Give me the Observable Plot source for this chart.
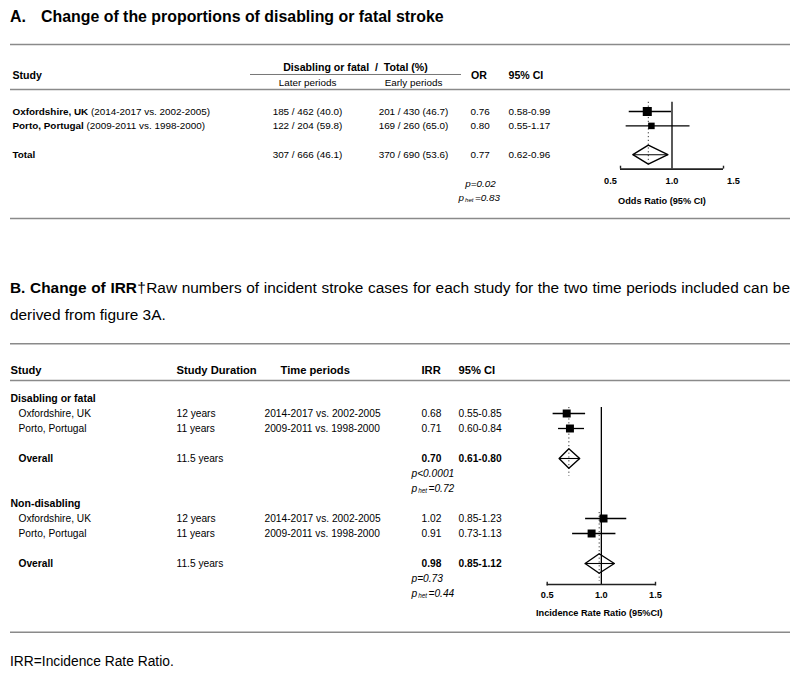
<!DOCTYPE html>
<html>
<head>
<meta charset="utf-8">
<script src="https://cdn.jsdelivr.net/npm/d3@7"></script>
<script src="https://cdn.jsdelivr.net/npm/@observablehq/plot@0.6"></script>
<style>
  html, body { margin: 0; padding: 0; background: #fff; }
  #root { position: relative; width: 800px; height: 676px; overflow: hidden;
          font-family: 'Liberation Sans', Arial, Helvetica, sans-serif; color: #000; }
  .abs { position: absolute; }
  #titleA { left: 10px; top: 6px; font-size: 15.9px; font-weight: bold; line-height: 21px; white-space: nowrap; }
  #titleA .lbl { display: inline-block; width: 31px; }
  #titleB { left: 10px; top: 274px; width: 780px; font-size: 15.4px; line-height: 27px; }
  #titleB .l1 { text-align: justify; text-align-last: justify; }
  #caption { left: 10px; top: 653px; font-size: 13.8px; line-height: 17px; }
  #plotA { left: 0; top: 30px; }
  #plotB { left: 0; top: 335px; }
</style>
</head>
<body>
<div id="root">
  <div id="titleA" class="abs"><span class="lbl">A.</span>Change of the proportions of disabling or fatal stroke</div>
  <div id="plotA" class="abs"></div>
  <div id="titleB" class="abs">
    <div class="l1"><b>B. Change of IRR</b>†Raw numbers of incident stroke cases for each study for the two time periods included can be</div>
    <div>derived from figure 3A.</div>
  </div>
  <div id="plotB" class="abs"></div>
  <div id="caption" class="abs">IRR=Incidence Rate Ratio.</div>
</div>
<script>
// ================= DATA =================
// Panel A
const studiesA = ["Oxfordshire, UK", "Porto, Portugal"];
const periodsA = ["(2014-2017 vs. 2002-2005)", "(2009-2011 vs. 1998-2000)"];
const eventsLaterA = [185, 122];
const totalLaterA = [462, 204];
const eventsEarlyA = [201, 169];
const totalEarlyA = [430, 260];
const orA = [0.76, 0.80];
const orLoA = [0.58, 0.55];
const orHiA = [0.99, 1.17];
const pooledOrA = [0.77, 0.62, 0.96];   // estimate, lower, upper
const pTextA = "p=0.02";
const pHetA = "0.83";
const ticksA = [0.5, 1.0, 1.5];

// Panel B
const groupsB = ["Disabling or fatal", "Non-disabling"];
const studiesB = ["Oxfordshire, UK", "Porto, Portugal"];
const durationsB = ["12 years", "11 years"];
const periodsB = ["2014-2017 vs. 2002-2005", "2009-2011 vs. 1998-2000"];
const irrB   = [[0.68, 0.71], [1.02, 0.91]];
const irrLoB = [[0.55, 0.60], [0.85, 0.73]];
const irrHiB = [[0.85, 0.84], [1.23, 1.13]];
const overallDurationB = "11.5 years";
const overallIrrB = [0.70, 0.98];
const overallLoB  = [0.61, 0.85];
const overallHiB  = [0.80, 1.12];
const pOverallB = ["p<0.0001", "p=0.73"];
const pHetB = ["0.72", "0.44"];
const ticksB = [0.5, 1.0, 1.5];

// ================= HELPERS =================
const FONT = "'Liberation Sans', Arial, Helvetica, sans-serif";
const ctx = document.createElement("canvas").getContext("2d");
function tw(str, size, weight = "normal", style = "normal") {
  ctx.font = `${style} ${weight} ${size}px ${FONT}`;
  return ctx.measureText(str).width;
}
const f2 = v => v.toFixed(2);
const ci = (lo, hi) => `${f2(lo)}-${f2(hi)}`;
const frac = (e, n) => `${e} / ${n} (${(100 * e / n).toFixed(1)})`;
const sum = a => a.reduce((s, v) => s + v, 0);

function txt(data, opts) {
  return Plot.text(data, {frameAnchor: "left", textAnchor: "start", fill: "#000", ...opts});
}
function one(row, text, dx, opts = {}) {
  return txt([{row, text}], {y: "row", text: "text", dx, ...opts});
}
function pHet(row, x0, value, size) {
  const wp = tw("p", size, "normal", "italic");
  const ss = size * 0.62;
  const wh = tw("het", ss, "normal", "italic");
  return [
    one(row, "p", x0, {fontSize: size, fontStyle: "italic"}),
    one(row, "het", x0 + wp + 1, {fontSize: ss, fontStyle: "italic", dy: 2.6}),
    one(row, "=" + value, x0 + wp + wh + 2.5, {fontSize: size, fontStyle: "italic"})
  ];
}
function diamond(id, est, lo, hi, row, h) {
  return [
    {id, x: lo, y: row}, {id, x: est, y: row - h}, {id, x: hi, y: row},
    {id, x: est, y: row + h}, {id, x: lo, y: row}
  ];
}
const GRAY = "#8a8a8a";

// ================= PANEL A =================
{
  const FS = 9.9, HFS = 10.6, AFS = 9.2;
  const unit = 14.4, row0 = 81, H = 195;
  const L = {lineTop: -4.65, head1: -3.06, underline: -2.57, head: -2.5, head2: -2.01, lineHead: -1.53,
             total: 3, axis: 4, tickLab: 4.86, p: 5, phet: 6, axisTitle: 6.25, lineBottom: 7.43,
             refTop: -0.64, dotBottom: 3.6};
  const rows = studiesA.map((s, i) => ({
    row: i, study: s, period: periodsA[i],
    later: frac(eventsLaterA[i], totalLaterA[i]), early: frac(eventsEarlyA[i], totalEarlyA[i]),
    est: orA[i], lo: orLoA[i], hi: orHiA[i], n: totalLaterA[i] + totalEarlyA[i]
  }));
  const total = {row: L.total, study: "Total",
    later: frac(sum(eventsLaterA), sum(totalLaterA)), early: frac(sum(eventsEarlyA), sum(totalEarlyA)),
    est: pooledOrA[0], lo: pooledOrA[1], hi: pooledOrA[2]};
  const all = [...rows, total];
  const tickOffsets = [-10, 0, 10];

  const marks = [
    Plot.ruleY([L.lineTop, L.lineHead, L.lineBottom], {insetLeft: 10, insetRight: 10, stroke: GRAY, strokeWidth: 1.6}),
    Plot.ruleY([L.underline], {insetLeft: 250, insetRight: 339, stroke: "#777", strokeWidth: 1}),
    one(L.head, "Study", 12, {fontWeight: "bold", fontSize: HFS}),
    one(L.head1, "Disabling or fatal  /  Total (%)", 355, {fontWeight: "bold", fontSize: HFS, textAnchor: "middle"}),
    one(L.head2, "Later periods", 307, {fontSize: FS, textAnchor: "middle"}),
    one(L.head2, "Early periods", 413, {fontSize: FS, textAnchor: "middle"}),
    one(L.head, "OR", 478.5, {fontWeight: "bold", fontSize: HFS, textAnchor: "middle"}),
    one(L.head, "95% CI", 508, {fontWeight: "bold", fontSize: HFS}),
    txt(all, {y: "row", text: "study", dx: 12, fontWeight: "bold", fontSize: FS}),
    ...rows.map(r => one(r.row, r.period, 12 + tw(r.study + " ", FS, "bold"), {fontSize: FS})),
    txt(all, {y: "row", text: "later", dx: 307, textAnchor: "middle", fontSize: FS}),
    txt(all, {y: "row", text: "early", dx: 413, textAnchor: "middle", fontSize: FS}),
    txt(all, {y: "row", text: d => f2(d.est), dx: 470, fontSize: FS}),
    txt(all, {y: "row", text: d => ci(d.lo, d.hi), dx: 508, fontSize: FS}),
    one(L.p, pTextA, 480, {fontSize: FS, fontStyle: "italic", textAnchor: "middle"}),
    ...pHet(L.phet, 458, pHetA, FS),
    Plot.ruleX([1], {y1: L.refTop, y2: L.axis, stroke: "#000", strokeWidth: 1.3}),
    Plot.ruleX([total], {x: "est", y1: L.refTop, y2: L.dotBottom, stroke: "#333", strokeWidth: 1, strokeDasharray: "1.2,2.6"}),
    Plot.link(rows, {x1: "lo", x2: "hi", y1: "row", y2: "row", stroke: "#000", strokeWidth: 1.3}),
    Plot.dot(rows, {x: "est", y: "row", r: "n", symbol: "square", fill: "#000"}),
    Plot.line(diamond("A", total.est, total.lo, total.hi, total.row, 0.66), {x: "x", y: "y", z: "id", stroke: "#000", strokeWidth: 1.4}),
    Plot.link([total], {x1: "lo", x2: "hi", y1: "row", y2: "row", stroke: "#000", strokeWidth: 1.1}),
    Plot.ruleY([L.axis], {x1: ticksA[0], x2: ticksA[ticksA.length - 1], stroke: "#222", strokeWidth: 1.6}),
    Plot.ruleX([ticksA[0], ticksA[ticksA.length - 1]], {y1: L.axis, y2: L.axis - 0.2, stroke: "#222", strokeWidth: 1.4}),
    ...ticksA.map((t, k) => Plot.text([t], {x: d => d, y: () => L.tickLab, text: d => d.toFixed(1), dx: tickOffsets[k],
        fontWeight: "bold", fontSize: AFS, fill: "#000"})),
    Plot.text(["Odds Ratio (95% CI)"], {x: () => 1, y: () => L.axisTitle, text: d => d, dx: -10,
        fontWeight: "bold", fontSize: AFS, fill: "#000"})
  ];

  const plotA = Plot.plot({
    width: 800, height: H,
    marginTop: 0, marginBottom: 0, marginLeft: 0, marginRight: 0,
    style: {fontFamily: FONT, fontSize: FS + "px", background: "#fff", overflow: "visible"},
    x: {type: "linear", domain: [0.5, 1.5], range: [620, 723], axis: null},
    y: {type: "linear", domain: [-row0 / unit, (H - row0) / unit], range: [0, H], axis: null},
    r: {type: "sqrt", domain: [0, d3.max(rows, d => d.n)], range: [0, 5.1]},
    marks
  });
  document.getElementById("plotA").appendChild(plotA);
}

// ================= PANEL B =================
{
  const FS = 10.2, HFS = 11.2, GFS = 10.5, AFS = 9.2;
  const unit = 15, row0 = 63, H = 305;
  const L = {lineTop: -3.65, head: -1.85, lineHead: -1.2, axis: 12.4, tickLab: 13.13, axisTitle: 14.31,
             lineBottom: 15.58, refTop: 0.6, groupStride: 7};
  const rows = [];
  groupsB.forEach((g, gi) => studiesB.forEach((s, i) => rows.push({
    g: gi, row: gi * L.groupStride + 1 + i, study: s, duration: durationsB[i], period: periodsB[i],
    est: irrB[gi][i], lo: irrLoB[gi][i], hi: irrHiB[gi][i]
  })));
  const overall = groupsB.map((g, gi) => ({
    g: gi, row: gi * L.groupStride + 4, label: "Overall", duration: overallDurationB,
    est: overallIrrB[gi], lo: overallLoB[gi], hi: overallHiB[gi], p: pOverallB[gi], phet: pHetB[gi],
    top: gi * L.groupStride + L.refTop
  }));
  const groups = groupsB.map((g, gi) => ({row: gi * L.groupStride, text: g}));

  const marks = [
    Plot.ruleY([L.lineTop, L.lineHead, L.lineBottom], {insetLeft: 10, insetRight: 10, stroke: GRAY, strokeWidth: 1.6}),
    one(L.head, "Study", 10, {fontWeight: "bold", fontSize: HFS}),
    one(L.head, "Study Duration", 176, {fontWeight: "bold", fontSize: HFS}),
    one(L.head, "Time periods", 280, {fontWeight: "bold", fontSize: HFS}),
    one(L.head, "IRR", 421, {fontWeight: "bold", fontSize: HFS}),
    one(L.head, "95% CI", 458, {fontWeight: "bold", fontSize: HFS}),
    txt(groups, {y: "row", text: "text", dx: 10, fontWeight: "bold", fontSize: GFS}),
    txt(rows, {y: "row", text: "study", dx: 18, fontSize: FS}),
    txt(rows, {y: "row", text: "duration", dx: 176, fontSize: FS}),
    txt(rows, {y: "row", text: "period", dx: 264, fontSize: FS}),
    txt(rows, {y: "row", text: d => f2(d.est), dx: 421, fontSize: FS}),
    txt(rows, {y: "row", text: d => ci(d.lo, d.hi), dx: 458, fontSize: FS}),
    txt(overall, {y: "row", text: "label", dx: 18, fontWeight: "bold", fontSize: FS}),
    txt(overall, {y: "row", text: "duration", dx: 176, fontSize: FS}),
    txt(overall, {y: "row", text: d => f2(d.est), dx: 421, fontWeight: "bold", fontSize: FS}),
    txt(overall, {y: "row", text: d => ci(d.lo, d.hi), dx: 458, fontWeight: "bold", fontSize: FS}),
    txt(overall, {y: d => d.row + 1, text: "p", dx: 411, fontStyle: "italic", fontSize: FS}),
    ...overall.flatMap(o => pHet(o.row + 2, 411, o.phet, FS)),
    Plot.ruleX([1], {y1: L.refTop, y2: L.axis, stroke: "#000", strokeWidth: 1.3}),
    Plot.ruleX(overall, {x: "est", y1: "top", y2: d => Math.min(d.row + 1.2, L.axis), stroke: "#333", strokeWidth: 1, strokeDasharray: "1.2,2.6"}),
    Plot.link(rows, {x1: "lo", x2: "hi", y1: "row", y2: "row", stroke: "#000", strokeWidth: 1.3}),
    Plot.dot(rows, {x: "est", y: "row", r: 4.5, symbol: "square", fill: "#000"}),
    Plot.line(overall.flatMap(o => diamond(o.g, o.est, o.lo, o.hi, o.row, 0.65)), {x: "x", y: "y", z: "id", stroke: "#000", strokeWidth: 1.4}),
    Plot.link(overall, {x1: "lo", x2: "hi", y1: "row", y2: "row", stroke: "#000", strokeWidth: 1.1}),
    Plot.ruleY([L.axis], {x1: ticksB[0], x2: ticksB[ticksB.length - 1], stroke: "#222", strokeWidth: 1.6}),
    Plot.ruleX([ticksB[0], ticksB[ticksB.length - 1]], {y1: L.axis - 0.15, y2: L.axis + 0.1, stroke: "#222", strokeWidth: 1.4}),
    Plot.text(ticksB, {x: d => d, y: () => L.tickLab, text: d => d.toFixed(1), fontWeight: "bold", fontSize: AFS, fill: "#000"}),
    Plot.text(["Incidence Rate Ratio (95%CI)"], {x: () => 1, y: () => L.axisTitle, text: d => d, dx: -2,
        fontWeight: "bold", fontSize: AFS, fill: "#000"})
  ];

  const plotB = Plot.plot({
    width: 800, height: H,
    marginTop: 0, marginBottom: 0, marginLeft: 0, marginRight: 0,
    style: {fontFamily: FONT, fontSize: FS + "px", background: "#fff", overflow: "visible"},
    x: {type: "linear", domain: [0.5, 1.5], range: [546.7, 655], axis: null},
    y: {type: "linear", domain: [-row0 / unit, (H - row0) / unit], range: [0, H], axis: null},
    marks
  });
  document.getElementById("plotB").appendChild(plotB);
}
</script>
</body>
</html>
